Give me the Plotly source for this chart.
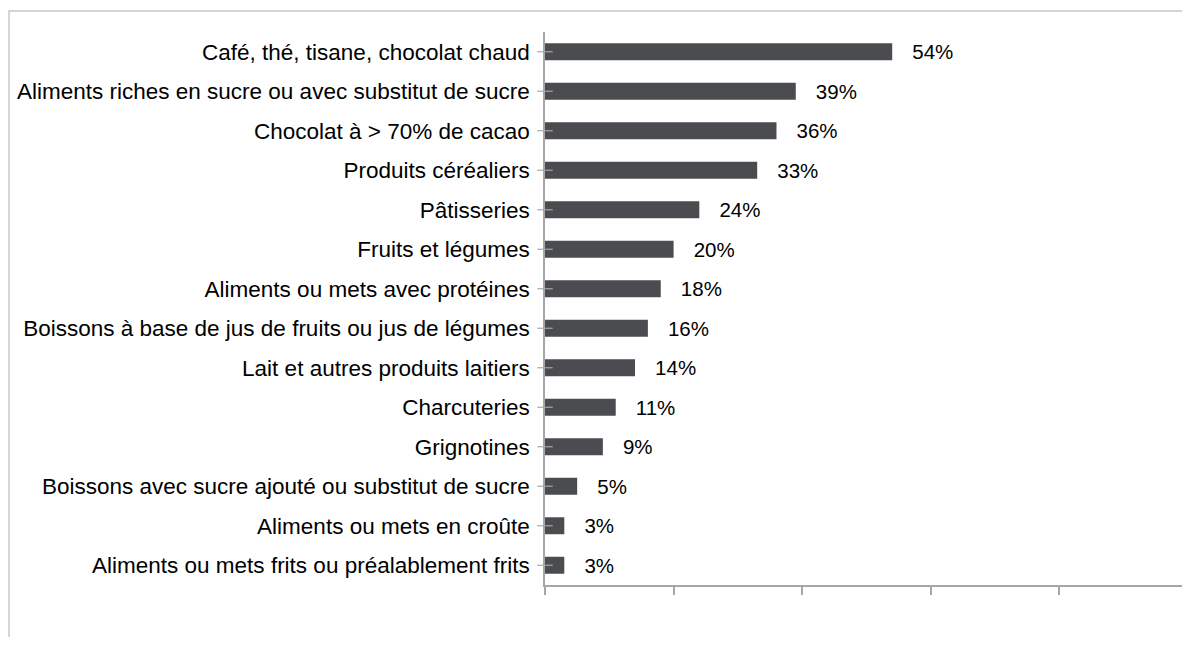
import plotly.graph_objects as go

categories = [
    "Café, thé, tisane, chocolat chaud",
    "Aliments riches en sucre ou avec substitut de sucre",
    "Chocolat à > 70% de cacao",
    "Produits céréaliers",
    "Pâtisseries",
    "Fruits et légumes",
    "Aliments ou mets avec protéines",
    "Boissons à base de jus de fruits ou jus de légumes",
    "Lait et autres produits laitiers",
    "Charcuteries",
    "Grignotines",
    "Boissons avec sucre ajouté ou substitut de sucre",
    "Aliments ou mets en croûte",
    "Aliments ou mets frits ou préalablement frits",
]
values = [54, 39, 36, 33, 24, 20, 18, 16, 14, 11, 9, 5, 3, 3]
x_ticks = [0, 20, 40, 60, 80, 100]

axis_color = "#a6a6a6"
label_font = "Liberation Sans, Arial, sans-serif"

fig = go.Figure()
fig.add_trace(go.Bar(
    x=values,
    y=categories,
    orientation="h",
    marker=dict(color="#4b4c50", line=dict(width=0)),
    text=[f"{v}%" for v in values],
    texttemplate="   %{text}",
    textposition="outside",
    constraintext="none",
    textfont=dict(family="Liberation Sans, Arial, sans-serif", size=20.5, color="#000000"),
    cliponaxis=False,
    hoverinfo="skip",
))
# crossing tick marks on the category axis
fig.add_trace(go.Scatter(
    x=[0] * len(categories),
    y=categories,
    mode="markers",
    marker=dict(symbol="line-ew", size=11, line=dict(width=1.2, color=axis_color)),
    cliponaxis=False,
    hoverinfo="skip",
    showlegend=False,
))

fig.update_layout(
    width=1182,
    height=629,
    margin=dict(l=537, r=2, t=24, b=52, autoexpand=False),
    plot_bgcolor="white",
    paper_bgcolor="white",
    showlegend=False,
    bargap=0.57,
    shapes=[dict(
        type="rect", xref="paper", yref="paper",
        x0=-0.8336, x1=1.2, y0=-0.3, y1=1.038,
        line=dict(color="#c8c8c8", width=1.5),
        fillcolor="rgba(0,0,0,0)",
        layer="below",
    )],
)
fig.update_xaxes(
    range=[0, 100],
    tickvals=x_ticks,
    showticklabels=False,
    ticks="outside",
    ticklen=8,
    tickwidth=1.5,
    tickcolor=axis_color,
    showline=True,
    linecolor=axis_color,
    linewidth=1.5,
    showgrid=False,
    zeroline=False,
    automargin=False,
)
fig.update_yaxes(
    categoryorder="array",
    categoryarray=categories[::-1],
    range=[-0.5, len(categories) - 0.5],
    showline=True,
    linecolor=axis_color,
    linewidth=1.5,
    ticks="",
    ticklabelstandoff=9,
    tickfont=dict(family=label_font, size=22.5, color="#000000"),
    showgrid=False,
    zeroline=False,
    automargin=False,
)

fig.write_html("out.html")
